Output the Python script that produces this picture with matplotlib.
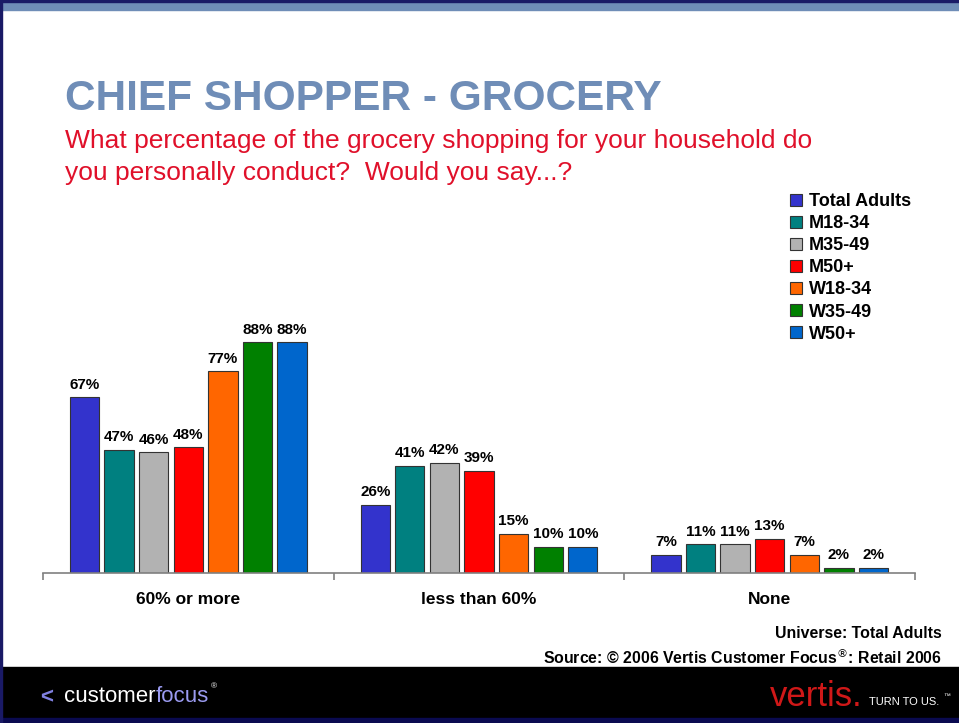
import numpy as np
import matplotlib.pyplot as plt
from matplotlib.patches import Rectangle

plt.rcParams['font.family'] = ['Liberation Sans', 'DejaVu Sans']

categories = ['60% or more', 'less than 60%', 'None']
series = ['Total Adults', 'M18-34', 'M35-49', 'M50+', 'W18-34', 'W35-49', 'W50+']
values = [
    [67, 26, 7],
    [47, 41, 11],
    [46, 42, 11],
    [48, 39, 13],
    [77, 15, 7],
    [88, 10, 2],
    [88, 10, 2],
]
colors = ['#3333CC', '#008080', '#B2B2B2', '#FF0000', '#FF6600', '#008000', '#0066CC']

W, H = 959, 723
fig = plt.figure(figsize=(W / 100, H / 100), dpi=100)

# frame / bands
fig.patches.append(Rectangle((0, 1 - 10 / H), 1, 10 / H, transform=fig.transFigure,
                             color='#6F8DB7', zorder=0))
fig.patches.append(Rectangle((0, 1 - 1.5 / H), 1, 1.5 / H, transform=fig.transFigure,
                             color='#1A1A66', zorder=1))
fig.patches.append(Rectangle((0, 0), 2 / W, 1, transform=fig.transFigure,
                             color='#1A1A66', zorder=1))
fig.patches.append(Rectangle((0, 5 / H), 1, 51 / H, transform=fig.transFigure,
                             color='black', zorder=0))
fig.patches.append(Rectangle((0, 0), 1, 5 / H, transform=fig.transFigure,
                             color='#0A0A50', zorder=0))

fig.text(65 / W, 1 - 99 / H, 'CHIEF SHOPPER - GROCERY', fontsize=30.5, fontweight='bold',
         color='#6F8DB7', va='center', ha='left')
fig.text(65 / W, 1 - 141 / H, 'What percentage of the grocery shopping for your household do',
         fontsize=19, color='#E0102A', va='center', ha='left')
fig.text(65 / W, 1 - 173 / H, 'you personally conduct?  Would you say...?',
         fontsize=19, color='#E0102A', va='center', ha='left')

ax = fig.add_axes([43 / W, (H - 573) / H, 872 / W, 262 / H])
x = np.arange(len(categories))
slot = 0.119
for i, (name, vals, c) in enumerate(zip(series, values, colors)):
    pos = x + (i - 3) * slot
    bars = ax.bar(pos, vals, width=0.101, color=c, edgecolor='#333333', linewidth=0.8,
                  label=name)
    for b, v in zip(bars, vals):
        ax.annotate(f'{v}%', (b.get_x() + b.get_width() / 2, v), xytext=(0, 4),
                    textcoords='offset points', ha='center', va='bottom',
                    fontsize=11, fontweight='bold')

ax.set_xlim(-0.5, 2.5)
ax.set_ylim(0, 100)
for s in ['top', 'right', 'left']:
    ax.spines[s].set_visible(False)
ax.spines['bottom'].set_color('#808080')
ax.spines['bottom'].set_linewidth(1.2)
ax.set_yticks([])
ax.set_xticks(x)
ax.set_xticklabels(categories, fontsize=12.5, fontweight='bold')
ax.tick_params(axis='x', which='major', length=0, pad=14)
ax.set_xticks([-0.5, 0.5, 1.5, 2.5], minor=True)
ax.tick_params(axis='x', which='minor', length=5, color='#808080', width=1.2)
ax.patch.set_alpha(0)

fig.legend(loc='upper left', bbox_to_anchor=(774 / W, 1 - 177 / H), frameon=False,
           prop={'weight': 'bold', 'size': 13}, handlelength=0.65, handleheight=0.65,
           handletextpad=0.4, labelspacing=0.28)

fig.text(942 / W, 1 - 634 / H, 'Universe: Total Adults', fontsize=11.4, fontweight='bold',
         ha='right', va='center')
fig.text(942 / W, 1 - 657 / H, 'Source: \u00a9 2006 Vertis Customer Focus$^{\u00ae}$: Retail 2006',
         fontsize=11.4, fontweight='bold', ha='right', va='center')

# footer logos
fig.text(40 / W, 1 - 698 / H, '<', fontsize=16, fontweight='bold', color='#8080E0',
         ha='left', va='center')
t1 = fig.text(64 / W, 1 - 697 / H, 'customer', fontsize=16, color='white',
              ha='left', va='center')
fig.canvas.draw()
bb = t1.get_window_extent()
fig.text(bb.x1 / W, 1 - 697 / H, 'focus', fontsize=16, color='#9A9AF0',
         ha='left', va='center')
fig.text(211 / W, 1 - 687 / H, '\u00ae', fontsize=6, color='white', ha='left', va='center')
fig.text(863 / W, 1 - 696 / H, 'vertis.', fontsize=25, color='#D01818',
         ha='right', va='center')
fig.text(869 / W, 1 - 702 / H, 'TURN TO US.', fontsize=8, color='white',
         ha='left', va='center')
fig.text(943 / W, 1 - 697 / H, '\u2122', fontsize=5, color='white', ha='left', va='center')

fig.savefig('out.png', dpi=100)
